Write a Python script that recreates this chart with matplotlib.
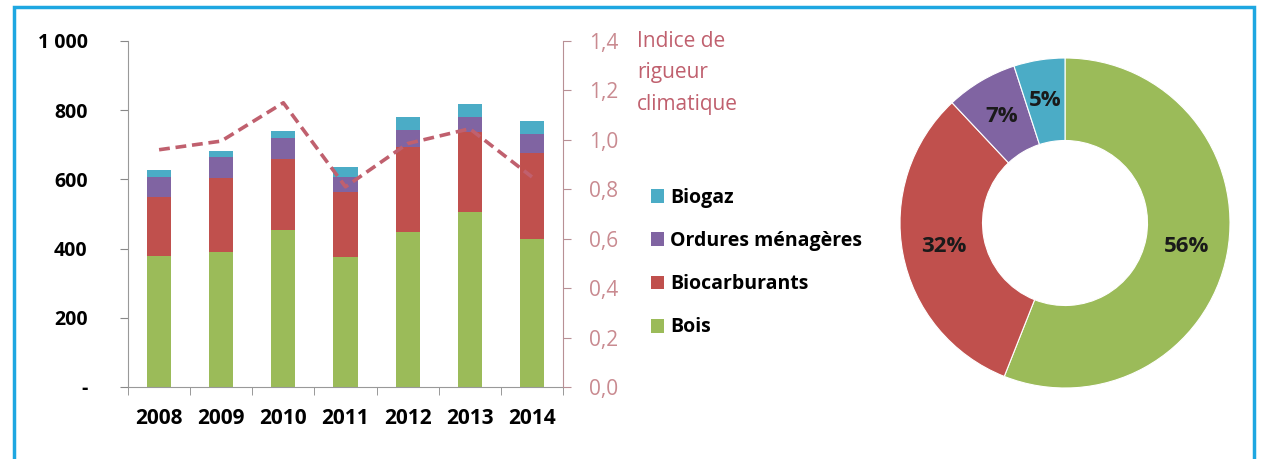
import matplotlib.pyplot as plt
import numpy as np
from matplotlib.patches import Rectangle, Patch

years = ['2008', '2009', '2010', '2011', '2012', '2013', '2014']
bois = [379, 391, 453, 375, 447, 505, 428]
biocarburants = [170, 213, 205, 189, 246, 231, 248]
ordures = [58, 60, 61, 43, 50, 43, 56]
biogaz = [21, 18, 22, 29, 36, 39, 36]
rigueur = [0.96, 0.995, 1.15, 0.81, 0.985, 1.045, 0.85]

pie_labels = ['Bois', 'Biocarburants', 'Ordures ménagères', 'Biogaz']
pie_shares = [56, 32, 7, 5]

colors = {
    'Bois': '#9bbb59',
    'Biocarburants': '#c0504d',
    'Ordures ménagères': '#8064a2',
    'Biogaz': '#4bacc6',
}
pink = '#c0606e'
tick_pink = '#c98a90'

plt.rcParams['font.family'] = ['Open Sans', 'DejaVu Sans']
fs = 14

W, H = 1262, 459
fig = plt.figure(figsize=(W / 100, H / 100), dpi=100)

# blue frame
fig.patches.append(Rectangle((14 / W, -0.05), 1240 / W, (H - 7) / H + 0.05,
                             transform=fig.transFigure, fill=False,
                             edgecolor='#1ea7e1', linewidth=2.5))

ax = fig.add_axes([128 / W, (H - 387) / H, 435 / W, 346 / H])
x = np.arange(len(years))
w = 0.39
bottom = np.zeros(len(years))
for name, vals in [('Bois', bois), ('Biocarburants', biocarburants),
                   ('Ordures ménagères', ordures), ('Biogaz', biogaz)]:
    ax.bar(x, vals, w, bottom=bottom, color=colors[name], zorder=2)
    bottom += np.array(vals)

ax.set_xlim(-0.5, len(years) - 0.5)
ax.set_ylim(0, 1000)
ax.set_yticks([0, 200, 400, 600, 800, 1000])
ax.set_yticklabels(['-', '200', '400', '600', '800', '1 000'],
                   fontsize=fs, fontweight='bold')
ax.set_xticks(x)
ax.set_xticklabels(years, fontsize=15, fontweight='bold')
ax.tick_params(axis='x', length=0, pad=15)
ax.set_xticks(np.arange(-0.5, len(years)), minor=True)
ax.tick_params(axis='x', which='minor', length=6, color='#888888', direction='out')
ax.tick_params(axis='y', length=6, color='#888888', pad=23)
ax.spines['top'].set_visible(False)
ax.spines['right'].set_visible(False)
ax.spines['left'].set_color('#999999')
ax.spines['bottom'].set_color('#999999')

ax2 = ax.twinx()
ax2.plot(x, rigueur, color=pink, linestyle=(0, (3, 1.6)), linewidth=2.6, zorder=3)
ax2.set_ylim(0, 1.4)
ticks2 = np.arange(0, 1.41, 0.2)
ax2.set_yticks(ticks2)
ax2.set_yticklabels([f'{t:.1f}'.replace('.', ',') for t in ticks2],
                    fontsize=15, color=tick_pink)
ax2.tick_params(axis='y', length=6, color='#b89095', pad=13)
for s in ['top', 'left', 'bottom']:
    ax2.spines[s].set_visible(False)
ax2.spines['right'].set_color('#b89095')

fig.text(637 / W, (H - 31) / H, 'Indice de\nrigueur\nclimatique', fontsize=15,
         color=pink, va='top', ha='left', linespacing=1.65)

handles = [Patch(facecolor=colors[n], edgecolor='none') for n in
           ['Biogaz', 'Ordures ménagères', 'Biocarburants', 'Bois']]
leg = fig.legend(handles, ['Biogaz', 'Ordures ménagères', 'Biocarburants', 'Bois'],
                 loc='upper left', bbox_to_anchor=(633 / W, (H - 170) / H),
                 frameon=False, prop={'weight': 'bold', 'size': fs},
                 handlelength=0.7, handleheight=0.7, handletextpad=0.3,
                 labelspacing=1.2)

pax = fig.add_axes([900 / W, (H - 388) / H, 330 / W, 330 / H])
wedges, texts, autotexts = pax.pie(
    pie_shares, colors=[colors[n] for n in pie_labels], startangle=90,
    counterclock=False, radius=1, autopct='%d%%', pctdistance=0.75,
    wedgeprops=dict(width=0.5, edgecolor='white', linewidth=0.8),
    textprops=dict(fontsize=16, fontweight='bold', color='#1a1a1a'))
pax.set_xlim(-1, 1)
pax.set_ylim(-1, 1)
pax.set_aspect('equal')

fig.savefig('out.png', dpi=100)
